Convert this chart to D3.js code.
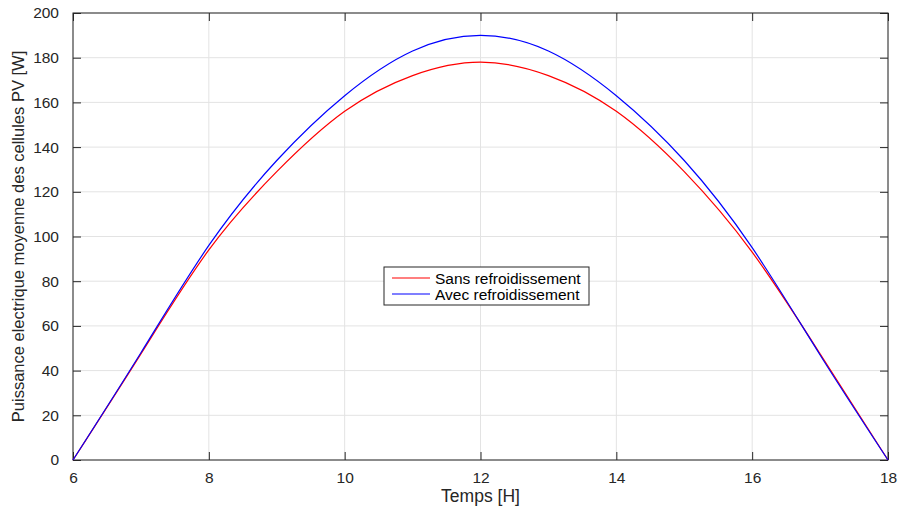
<!DOCTYPE html>
<html>
<head>
<meta charset="utf-8">
<script src="https://cdn.jsdelivr.net/npm/d3@7"></script>
<style>
  body { margin: 0; background: #fff; }
  svg { font-family: "Liberation Sans", Arial, sans-serif; }
</style>
</head>
<body>
<div id="chart"></div>
<script>
// heures (abscisse)
const hours = [6, 7, 8, 9, 10, 11, 12, 13, 14, 15, 16, 17, 18];
// puissance sans refroidissement [W]
const sansRefroid = [0, 47.5, 94, 129, 156, 172, 178, 172, 156, 129, 93, 47.5, 0];
// puissance avec refroidissement [W]
const avecRefroid = [0, 48, 96, 134, 163, 183, 190, 183, 163, 134, 95, 47, 0];
const xTicks = [6, 8, 10, 12, 14, 16, 18];
const yTicks = [0, 20, 40, 60, 80, 100, 120, 140, 160, 180, 200];
const seriesNames = ['Sans refroidissement', 'Avec refroidissement'];

const width = 900, height = 508;
const margin = { top: 13, right: 12, bottom: 48, left: 73 };
const innerW = width - margin.left - margin.right;
const innerH = height - margin.top - margin.bottom;

const svg = d3.select('#chart')
    .append('svg')
        .attr('width', width)
        .attr('height', height);

const g = svg.append('g')
    .attr('transform', `translate(${margin.left},${margin.top})`);

const x = d3.scaleLinear().domain([6, 18]).range([0, innerW]);
const y = d3.scaleLinear().domain([0, 200]).range([innerH, 0]);

// grille
g.append('g')
    .selectAll('line')
    .data(xTicks)
    .join('line')
        .attr('x1', d => x(d)).attr('x2', d => x(d))
        .attr('y1', 0).attr('y2', innerH)
        .attr('stroke', '#e3e3e3');
g.append('g')
    .selectAll('line')
    .data(yTicks)
    .join('line')
        .attr('x1', 0).attr('x2', innerW)
        .attr('y1', d => y(d)).attr('y2', d => y(d))
        .attr('stroke', '#e3e3e3');

// axes (ticks vers l'interieur, sur les quatre cotes)
const tickLen = 8;
const axisColor = '#262626';
function styleAxis(sel) {
    sel.select('.domain').remove();
    sel.selectAll('.tick line').attr('stroke', axisColor);
    sel.selectAll('.tick text')
        .attr('fill', axisColor)
        .attr('font-size', 15.5)
        .attr('font-family', '"Liberation Sans", Arial, sans-serif');
}
g.append('g')
    .attr('transform', `translate(0,${innerH})`)
    .call(d3.axisBottom(x).tickValues(xTicks).tickSizeInner(-tickLen).tickSizeOuter(0).tickPadding(12).tickFormat(d3.format('d')))
    .call(styleAxis);
g.append('g')
    .call(d3.axisTop(x).tickValues(xTicks).tickSizeInner(-tickLen).tickSizeOuter(0).tickFormat(''))
    .call(styleAxis);
g.append('g')
    .call(d3.axisLeft(y).tickValues(yTicks).tickSizeInner(-tickLen).tickSizeOuter(0).tickPadding(14).tickFormat(d3.format('d')))
    .call(styleAxis);
g.append('g')
    .attr('transform', `translate(${innerW},0)`)
    .call(d3.axisRight(y).tickValues(yTicks).tickSizeInner(-tickLen).tickSizeOuter(0).tickFormat(''))
    .call(styleAxis);

g.append('rect')
    .attr('width', innerW)
    .attr('height', innerH)
    .attr('fill', 'none')
    .attr('stroke', axisColor)
    .attr('stroke-width', 1);

// courbes
const line = d3.line()
    .x(d => x(d[0]))
    .y(d => y(d[1]))
    .curve(d3.curveNatural);

g.append('path')
    .datum(hours.map((h, i) => [h, sansRefroid[i]]))
    .attr('d', line)
    .attr('fill', 'none')
    .attr('stroke', '#ff0000')
    .attr('stroke-width', 1.2);
g.append('path')
    .datum(hours.map((h, i) => [h, avecRefroid[i]]))
    .attr('d', line)
    .attr('fill', 'none')
    .attr('stroke', '#0000ff')
    .attr('stroke-width', 1.2);

// titres des axes
svg.append('text')
    .attr('x', margin.left + innerW / 2)
    .attr('y', 502)
    .attr('text-anchor', 'middle')
    .attr('font-size', 17.5)
    .attr('fill', axisColor)
    .text('Temps [H]');
svg.append('text')
    .attr('transform', `translate(24,${margin.top + innerH / 2}) rotate(-90)`)
    .attr('text-anchor', 'middle')
    .attr('font-size', 16.5)
    .attr('fill', axisColor)
    .text('Puissance electrique moyenne des cellules PV [W]');

// legende
const legend = svg.append('g').attr('transform', 'translate(384,267)');
legend.append('rect')
    .attr('width', 205)
    .attr('height', 38)
    .attr('fill', '#fff')
    .attr('stroke', axisColor)
    .attr('stroke-width', 1);
const legendColors = ['#ff0000', '#0000ff'];
const legendRows = legend.selectAll('g.row')
    .data(seriesNames)
    .join('g')
        .attr('class', 'row')
        .attr('transform', (d, i) => `translate(0,${11 + i * 16})`);
legendRows.append('line')
    .attr('x1', 8).attr('x2', 46)
    .attr('stroke', (d, i) => legendColors[i])
    .attr('stroke-width', 1.2);
legendRows.append('text')
    .attr('x', 51)
    .attr('y', 5.5)
    .attr('font-size', 15.5)
    .attr('fill', '#000')
    .text(d => d);
</script>
</body>
</html>
